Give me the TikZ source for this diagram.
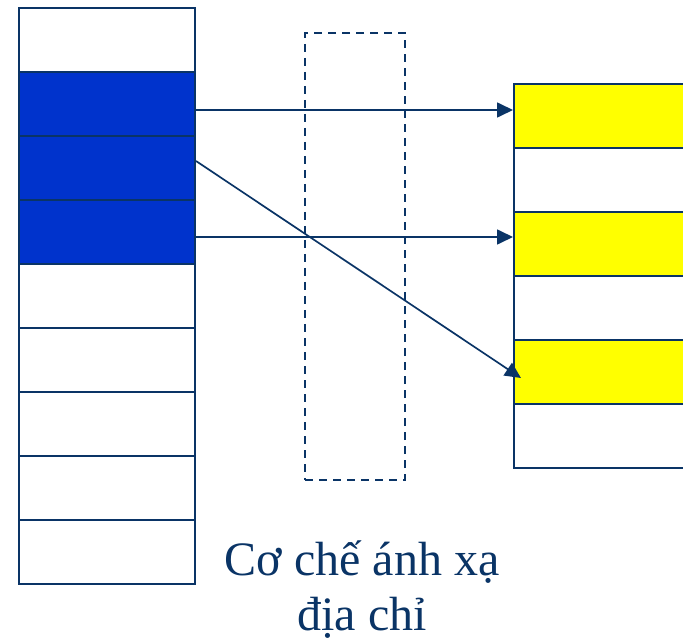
\documentclass[tikz,border=0pt]{standalone}
\usepackage{fontspec}
\setmainfont{Liberation Serif}
\usetikzlibrary{arrows.meta}
\definecolor{navy}{RGB}{10,52,102}
\definecolor{cellblue}{RGB}{0,51,204}
\definecolor{cellyellow}{RGB}{255,255,0}
\tikzset{
  lcell/.style={draw=navy,line width=2pt,minimum width=176pt,minimum height=64pt,inner sep=0pt,fill=white},
  rcell/.style={draw=navy,line width=2pt,minimum width=186pt,minimum height=64pt,inner sep=0pt,fill=white},
  hot/.style={fill=cellblue},
  ylw/.style={fill=cellyellow},
  arr/.style={draw=navy,line width=1.7pt,-{Triangle[length=16pt,width=15pt]}},
  mapbox/.style={draw=navy,line width=1.7pt,dash pattern=on 8pt off 6pt},
  lbl/.style={text=navy,font=\fontsize{48}{56}\selectfont,inner sep=0pt,anchor=base}
}
\begin{document}
\begin{tikzpicture}[x=1pt,y=-1pt]
\useasboundingbox (0,0) rectangle (683,639);
\clip (0,0) rectangle (683,639);
% left column
\node[lcell] (l0) at (107,40) {};
\node[lcell,hot] (l1) at (107,104) {};
\node[lcell,hot] (l2) at (107,168) {};
\node[lcell,hot] (l3) at (107,232) {};
\node[lcell] (l4) at (107,296) {};
\node[lcell] (l5) at (107,360) {};
\node[lcell] (l6) at (107,424) {};
\node[lcell] (l7) at (107,488) {};
\node[lcell] (l8) at (107,552) {};
% right column
\node[rcell,ylw] (r0) at (607,116) {};
\node[rcell] (r1) at (607,180) {};
\node[rcell,ylw] (r2) at (607,244) {};
\node[rcell] (r3) at (607,308) {};
\node[rcell,ylw] (r4) at (607,372) {};
\node[rcell] (r5) at (607,436) {};
% mapping box
\node[mapbox,minimum width=100pt,minimum height=447pt,inner sep=0pt] (map) at (355,256.5) {};
% arrows
\draw[arr] ([yshift=-6pt]l1.east) -- ([yshift=6pt]r0.west);
\draw[arr] ([yshift=7pt]l2.east) -- ([xshift=8pt,yshift=-6pt]r4.west);
\draw[arr] ([yshift=-5pt]l3.east) -- ([yshift=7pt]r2.west);
% label
\node[lbl] (t1) at (362,575) {Cơ chế ánh xạ};
\node[lbl] (t2) at (362,630) {địa chỉ};
\end{tikzpicture}
\end{document}
